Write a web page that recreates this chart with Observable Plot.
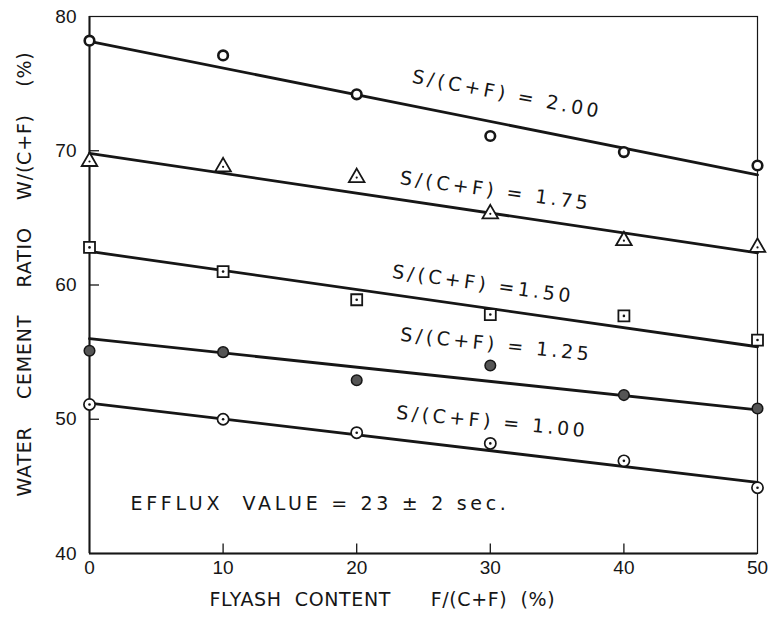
<!DOCTYPE html>
<html>
<head>
<meta charset="utf-8">
<script src="https://cdn.jsdelivr.net/npm/d3@7"></script>
<script src="https://cdn.jsdelivr.net/npm/@observablehq/plot@0.6"></script>
<style>
  body { margin: 0; background: #fff; }
  svg text { white-space: pre; }
</style>
</head>
<body>
<div id="chart"></div>
<script>
// Flyash content F/(C+F), %
const flyash = [0, 10, 20, 30, 40, 50];

// Water–cement ratio W/(C+F), %, for each sand ratio S/(C+F)
const ratioLevels = ["2.00", "1.75", "1.50", "1.25", "1.00"];
const wc200 = [78.2, 77.1, 74.2, 71.1, 69.9, 68.9];
const wc175 = [69.2, 68.8, 68.0, 65.3, 63.3, 62.8];
const wc150 = [62.8, 61.0, 58.9, 57.8, 57.7, 55.9];
const wc125 = [55.1, 55.0, 52.9, 54.0, 51.8, 50.8];
const wc100 = [51.1, 50.0, 49.0, 48.2, 46.9, 44.9];

// Fitted straight lines: value at 0 % and at 50 % flyash
const fitAt0  = [78.15, 69.8, 62.5, 56.0, 51.2];
const fitAt50 = [68.2, 62.4, 55.4, 50.7, 45.3];

const xTicks = [0, 10, 20, 30, 40, 50];
const yTicks = [40, 50, 60, 70, 80];
const innerYTicks = [50, 60, 70];
const innerXTicks = [10, 20, 30, 40];

const curveLabels = [
  "S/(C+F) = 2.00",
  "S/(C+F) = 1.75",
  "S/(C+F) =1.50",
  "S/(C+F) = 1.25",
  "S/(C+F) = 1.00"
];
const xTitle = "FLYASH  CONTENT      F/(C+F)  (%)";
const yTitle = "WATER    CEMENT    RATIO    W/(C+F)    (%)";
const effluxNote = "EFFLUX  VALUE = 23 \u00b1 2 sec.";

// Assemble tables for the marks
const seriesValues = [wc200, wc175, wc150, wc125, wc100];
const points = ratioLevels.map((level, i) =>
  flyash.map((f, j) => ({level, f, wc: seriesValues[i][j]}))
);
const fits = ratioLevels.flatMap((level, i) => [
  {level, f: flyash[0], wc: fitAt0[i]},
  {level, f: flyash[flyash.length - 1], wc: fitAt50[i]}
]);

// Label placement along each line (data coordinates, rotation in degrees)
const labelPlacement = [
  {x: 31.25, y: 74.2, rotate: 10.7},
  {x: 30.4, y: 67.0, rotate: 7.8},
  {x: 29.45, y: 60.05, rotate: 7.9},
  {x: 30.45, y: 55.55, rotate: 6.0},
  {x: 30.15, y: 49.8, rotate: 5.5}
];
const labelRows = curveLabels.map((text, i) => ({text, ...labelPlacement[i]}));

const ink = "#161616";
const face = "DejaVu Sans";

const chart = Plot.plot({
  width: 768,
  height: 621,
  marginLeft: 89,
  marginRight: 11,
  marginTop: 16,
  marginBottom: 68,
  style: {background: "#fff", color: ink, fontFamily: face},
  x: {domain: [0, 50], label: null},
  y: {domain: [40, 80], label: null},
  marks: [
    Plot.frame({stroke: ink, strokeWidth: 1.2}),
    Plot.ruleX([0], {stroke: ink, strokeWidth: 2}),
    Plot.ruleY([40], {stroke: ink, strokeWidth: 2}),
    Plot.ruleY(innerYTicks, {x1: 0, x2: 0.75, stroke: ink, strokeWidth: 1.3}),
    Plot.ruleX(innerXTicks, {y1: 40, y2: 40.7, stroke: ink, strokeWidth: 1.3}),
    Plot.axisX({ticks: xTicks, tickSize: 0, tickPadding: 7, fontSize: 19, fontFamily: "Liberation Sans", label: null}),
    Plot.axisY({ticks: yTicks, tickSize: 0, tickPadding: 13, fontSize: 19, fontFamily: "Liberation Sans", label: null}),

    // fitted lines
    Plot.line(fits, {x: "f", y: "wc", z: "level", stroke: ink, strokeWidth: 2.8}),

    // S/(C+F) = 2.00 : heavy open circles
    Plot.dot(points[0], {x: "f", y: "wc", r: 4.8, stroke: ink, strokeWidth: 2.6, fill: "#fff"}),
    // S/(C+F) = 1.75 : open triangles with centre dot
    Plot.dot(points[1], {x: "f", y: "wc", symbol: "triangle", r: 5.8, stroke: ink, strokeWidth: 1.8, fill: "#fff"}),
    Plot.dot(points[1], {x: "f", y: "wc", r: 1.1, fill: ink}),
    // S/(C+F) = 1.50 : open squares with centre dot
    Plot.dot(points[2], {x: "f", y: "wc", symbol: "square", r: 6.2, stroke: ink, strokeWidth: 1.8, fill: "#fff"}),
    Plot.dot(points[2], {x: "f", y: "wc", r: 1.3, fill: ink}),
    // S/(C+F) = 1.25 : shaded circles
    Plot.dot(points[3], {x: "f", y: "wc", r: 5.3, stroke: ink, strokeWidth: 1.5, fill: "#555"}),
    // S/(C+F) = 1.00 : open circles with centre dot
    Plot.dot(points[4], {x: "f", y: "wc", r: 5.6, stroke: ink, strokeWidth: 1.7, fill: "#fff"}),
    Plot.dot(points[4], {x: "f", y: "wc", r: 1.3, fill: ink}),

    Plot.text(labelRows, {
      x: "x", y: "y", text: "text", rotate: "rotate", fontSize: 19, fill: ink
    }),
    Plot.text([effluxNote], {
      x: 0, y: 43.7, dx: 41, textAnchor: "start", fontSize: 19, fill: ink
    }),
    Plot.text([xTitle], {
      frameAnchor: "bottom-left", dx: 120, dy: 52, textAnchor: "start", fontSize: 19, fill: ink
    }),
    Plot.text([yTitle], {
      frameAnchor: "left", dx: -65, dy: -11, rotate: -90, textAnchor: "middle", fontSize: 19, fill: ink
    })
  ]
});

// Letter spacing of the hand-lettered annotations
const spacing = new Map([
  ...curveLabels.map((t) => [t, "3.5px"]),
  [effluxNote, "3.7px"],
  [xTitle, "0.6px"],
  [yTitle, "0.8px"]
]);
d3.select(chart).selectAll("text").each(function () {
  const s = spacing.get(this.textContent);
  if (s) this.style.letterSpacing = s;
});

document.getElementById("chart").append(chart);
</script>
</body>
</html>
